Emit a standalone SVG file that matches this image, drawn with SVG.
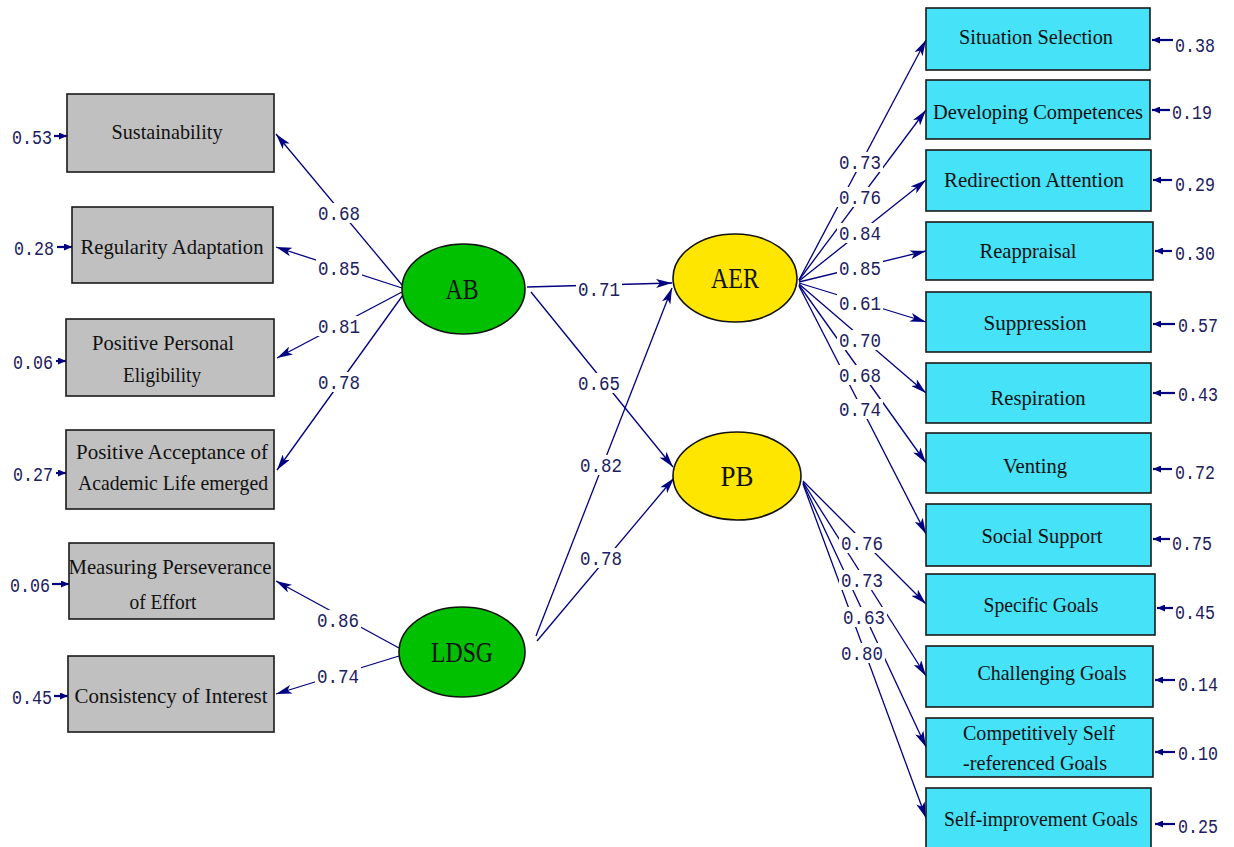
<svg xmlns="http://www.w3.org/2000/svg" width="1234" height="847" viewBox="0 0 1234 847">
<defs>
<marker id="ah" viewBox="0 0 16 9" refX="16" refY="4.5" markerWidth="16" markerHeight="9" orient="auto" markerUnits="userSpaceOnUse"><path d="M0,0 L16,4.5 L0,9 L4,4.5 z" fill="#000080"/></marker>
<marker id="eh" viewBox="0 0 8 7" refX="8" refY="3.5" markerWidth="8" markerHeight="7" orient="auto" markerUnits="userSpaceOnUse"><path d="M0,0 L8,3.5 L0,7 z" fill="#000080"/></marker>
</defs>
<style>
.gb{fill:#c0c0c0;stroke:#1a1a1a;stroke-width:1.6}
.cb{fill:#46e2f8;stroke:#1a1a1a;stroke-width:1.6}
.t{font-family:"Liberation Serif","Times New Roman",serif;font-size:21px;fill:#111;text-anchor:middle}
.et{font-family:"Liberation Serif","Times New Roman",serif;font-size:29px;fill:#111;text-anchor:middle}
.n{font-family:"Liberation Mono","Courier New",monospace;font-size:21px;fill:#20205e;text-anchor:middle}
.bg rect{fill:#fff;width:46px;height:20px}
.c line{stroke:#000080;stroke-width:1.3;marker-end:url(#ah)}
.e line{stroke:#000080;stroke-width:2.2;marker-end:url(#eh)}
</style>
<rect width="1234" height="847" fill="#fff"/>

<g id="connectors" class="c">
<line x1="402" y1="285" x2="276" y2="134"/>
<line x1="402" y1="288" x2="276" y2="247"/>
<line x1="402" y1="292" x2="277" y2="358"/>
<line x1="403" y1="295" x2="277" y2="470"/>
<line x1="399" y1="648" x2="276" y2="581"/>
<line x1="399" y1="656" x2="276" y2="694"/>
<line x1="527" y1="287" x2="672" y2="283"/>
<line x1="531" y1="292" x2="673" y2="467"/>
<line x1="536" y1="636" x2="672" y2="288"/>
<line x1="537" y1="641" x2="674" y2="478"/>
<line x1="799" y1="280" x2="926" y2="40"/>
<line x1="799" y1="280" x2="926" y2="110"/>
<line x1="799" y1="281" x2="926" y2="180"/>
<line x1="799" y1="282" x2="926" y2="251"/>
<line x1="799" y1="283" x2="926" y2="322"/>
<line x1="799" y1="284" x2="926" y2="393"/>
<line x1="799" y1="285" x2="926" y2="463"/>
<line x1="799" y1="286" x2="926" y2="534"/>
<line x1="803" y1="481" x2="926" y2="604"/>
<line x1="803" y1="482" x2="926" y2="676"/>
<line x1="803" y1="483" x2="926" y2="747"/>
<line x1="803" y1="484" x2="926" y2="818"/>
</g>

<g id="errors" class="e">
<line x1="54" y1="136" x2="67" y2="136"/>
<line x1="57" y1="247" x2="72" y2="247"/>
<line x1="56" y1="361" x2="66" y2="361"/>
<line x1="56" y1="473" x2="66" y2="473"/>
<line x1="52" y1="584" x2="69" y2="584"/>
<line x1="54" y1="696" x2="68" y2="696"/>
<line x1="1173" y1="40" x2="1152" y2="40"/>
<line x1="1170" y1="110" x2="1152" y2="110"/>
<line x1="1172" y1="180" x2="1153" y2="180"/>
<line x1="1172" y1="251" x2="1155" y2="251"/>
<line x1="1175" y1="324" x2="1153" y2="324"/>
<line x1="1175" y1="393" x2="1153" y2="393"/>
<line x1="1172" y1="469" x2="1153" y2="469"/>
<line x1="1170" y1="539" x2="1153" y2="539"/>
<line x1="1173" y1="608" x2="1157" y2="608"/>
<line x1="1175" y1="680" x2="1155" y2="680"/>
<line x1="1175" y1="752" x2="1155" y2="752"/>
<line x1="1175" y1="824" x2="1155" y2="824"/>
</g>

<g id="label-backgrounds" class="bg">
<rect x="316" y="203"/><rect x="316" y="258"/><rect x="316" y="316"/><rect x="316" y="372"/>
<rect x="315" y="610"/><rect x="315" y="666"/>
<rect x="576" y="279"/><rect x="576" y="373"/><rect x="578" y="455"/><rect x="578" y="548"/>
<rect x="837" y="152"/><rect x="837" y="187"/><rect x="837" y="223"/><rect x="837" y="258"/>
<rect x="837" y="293"/><rect x="837" y="330"/><rect x="837" y="365"/><rect x="837" y="399"/>
<rect x="839" y="533"/><rect x="839" y="570"/><rect x="841" y="607"/><rect x="839" y="643"/>
</g>

<g id="path-labels">
<text class="n" x="339" y="220" textLength="42" lengthAdjust="spacingAndGlyphs">0.68</text>
<text class="n" x="339" y="275" textLength="42" lengthAdjust="spacingAndGlyphs">0.85</text>
<text class="n" x="339" y="333" textLength="42" lengthAdjust="spacingAndGlyphs">0.81</text>
<text class="n" x="339" y="389" textLength="42" lengthAdjust="spacingAndGlyphs">0.78</text>
<text class="n" x="338" y="627" textLength="42" lengthAdjust="spacingAndGlyphs">0.86</text>
<text class="n" x="338" y="683" textLength="42" lengthAdjust="spacingAndGlyphs">0.74</text>
<text class="n" x="599" y="296" textLength="42" lengthAdjust="spacingAndGlyphs">0.71</text>
<text class="n" x="599" y="390" textLength="42" lengthAdjust="spacingAndGlyphs">0.65</text>
<text class="n" x="601" y="472" textLength="42" lengthAdjust="spacingAndGlyphs">0.82</text>
<text class="n" x="601" y="565" textLength="42" lengthAdjust="spacingAndGlyphs">0.78</text>
<text class="n" x="860" y="169" textLength="42" lengthAdjust="spacingAndGlyphs">0.73</text>
<text class="n" x="860" y="204" textLength="42" lengthAdjust="spacingAndGlyphs">0.76</text>
<text class="n" x="860" y="240" textLength="42" lengthAdjust="spacingAndGlyphs">0.84</text>
<text class="n" x="860" y="275" textLength="42" lengthAdjust="spacingAndGlyphs">0.85</text>
<text class="n" x="860" y="310" textLength="42" lengthAdjust="spacingAndGlyphs">0.61</text>
<text class="n" x="860" y="347" textLength="42" lengthAdjust="spacingAndGlyphs">0.70</text>
<text class="n" x="860" y="382" textLength="42" lengthAdjust="spacingAndGlyphs">0.68</text>
<text class="n" x="860" y="416" textLength="42" lengthAdjust="spacingAndGlyphs">0.74</text>
<text class="n" x="862" y="550" textLength="42" lengthAdjust="spacingAndGlyphs">0.76</text>
<text class="n" x="862" y="587" textLength="42" lengthAdjust="spacingAndGlyphs">0.73</text>
<text class="n" x="864" y="624" textLength="42" lengthAdjust="spacingAndGlyphs">0.63</text>
<text class="n" x="862" y="660" textLength="42" lengthAdjust="spacingAndGlyphs">0.80</text>
</g>

<g id="error-labels">
<text class="n" x="32" y="144" textLength="40" lengthAdjust="spacingAndGlyphs">0.53</text>
<text class="n" x="34" y="255" textLength="40" lengthAdjust="spacingAndGlyphs">0.28</text>
<text class="n" x="33" y="369" textLength="40" lengthAdjust="spacingAndGlyphs">0.06</text>
<text class="n" x="33" y="481" textLength="40" lengthAdjust="spacingAndGlyphs">0.27</text>
<text class="n" x="30" y="592" textLength="40" lengthAdjust="spacingAndGlyphs">0.06</text>
<text class="n" x="32" y="704" textLength="40" lengthAdjust="spacingAndGlyphs">0.45</text>
<text class="n" x="1195" y="52" textLength="40" lengthAdjust="spacingAndGlyphs">0.38</text>
<text class="n" x="1192" y="119" textLength="40" lengthAdjust="spacingAndGlyphs">0.19</text>
<text class="n" x="1195" y="191" textLength="40" lengthAdjust="spacingAndGlyphs">0.29</text>
<text class="n" x="1195" y="260" textLength="40" lengthAdjust="spacingAndGlyphs">0.30</text>
<text class="n" x="1198" y="332" textLength="40" lengthAdjust="spacingAndGlyphs">0.57</text>
<text class="n" x="1198" y="401" textLength="40" lengthAdjust="spacingAndGlyphs">0.43</text>
<text class="n" x="1195" y="479" textLength="40" lengthAdjust="spacingAndGlyphs">0.72</text>
<text class="n" x="1192" y="550" textLength="40" lengthAdjust="spacingAndGlyphs">0.75</text>
<text class="n" x="1195" y="619" textLength="40" lengthAdjust="spacingAndGlyphs">0.45</text>
<text class="n" x="1198" y="691" textLength="40" lengthAdjust="spacingAndGlyphs">0.14</text>
<text class="n" x="1198" y="760" textLength="40" lengthAdjust="spacingAndGlyphs">0.10</text>
<text class="n" x="1198" y="833" textLength="40" lengthAdjust="spacingAndGlyphs">0.25</text>
</g>

<g id="Sustainability"><rect class="gb" x="67" y="94" width="207" height="78"/><text class="t" x="167" y="139" textLength="111" lengthAdjust="spacingAndGlyphs">Sustainability</text></g>
<g id="RegularityAdaptation"><rect class="gb" x="72" y="207" width="201" height="76"/><text class="t" x="172" y="254" textLength="183" lengthAdjust="spacingAndGlyphs">Regularity Adaptation</text></g>
<g id="PositivePersonalEligibility"><rect class="gb" x="66" y="319" width="208" height="77"/><text class="t" x="163" y="350" textLength="142" lengthAdjust="spacingAndGlyphs">Positive Personal</text><text class="t" x="162" y="382" textLength="78" lengthAdjust="spacingAndGlyphs">Eligibility</text></g>
<g id="PositiveAcceptance"><rect class="gb" x="66" y="430" width="208" height="79"/><text class="t" x="172" y="459" textLength="192" lengthAdjust="spacingAndGlyphs">Positive Acceptance of</text><text class="t" x="173" y="490" textLength="190" lengthAdjust="spacingAndGlyphs">Academic Life emerged</text></g>
<g id="MeasuringPerseverance"><rect class="gb" x="69" y="543" width="205" height="76"/><text class="t" x="170" y="574" textLength="203" lengthAdjust="spacingAndGlyphs">Measuring Perseverance</text><text class="t" x="163" y="609" textLength="67" lengthAdjust="spacingAndGlyphs">of Effort</text></g>
<g id="ConsistencyOfInterest"><rect class="gb" x="68" y="656" width="206" height="76"/><text class="t" x="171" y="703" textLength="193" lengthAdjust="spacingAndGlyphs">Consistency of Interest</text></g>

<g id="AB"><ellipse cx="463.5" cy="289" rx="61.5" ry="45" fill="#00c000" stroke="#111" stroke-width="1.6"/><text class="et" x="462" y="299" textLength="33" lengthAdjust="spacingAndGlyphs">AB</text></g>
<g id="LDSG"><ellipse cx="462" cy="652" rx="63" ry="45" fill="#00c000" stroke="#111" stroke-width="1.6"/><text class="et" x="462" y="662" textLength="62" lengthAdjust="spacingAndGlyphs">LDSG</text></g>
<g id="AER"><ellipse cx="735" cy="278" rx="62" ry="44" fill="#ffe600" stroke="#111" stroke-width="1.6"/><text class="et" x="735" y="288" textLength="48" lengthAdjust="spacingAndGlyphs">AER</text></g>
<g id="PB"><ellipse cx="737" cy="476" rx="64" ry="44" fill="#ffe600" stroke="#111" stroke-width="1.6"/><text class="et" x="737" y="486" textLength="33" lengthAdjust="spacingAndGlyphs">PB</text></g>

<g id="SituationSelection"><rect class="cb" x="926" y="8" width="224" height="62"/><text class="t" x="1036" y="44" textLength="154" lengthAdjust="spacingAndGlyphs">Situation Selection</text></g>
<g id="DevelopingCompetences"><rect class="cb" x="926" y="80" width="224" height="59"/><text class="t" x="1038" y="119" textLength="210" lengthAdjust="spacingAndGlyphs">Developing Competences</text></g>
<g id="RedirectionAttention"><rect class="cb" x="926" y="150" width="225" height="61"/><text class="t" x="1034" y="187" textLength="180" lengthAdjust="spacingAndGlyphs">Redirection Attention</text></g>
<g id="Reappraisal"><rect class="cb" x="926" y="222" width="227" height="58"/><text class="t" x="1028" y="258" textLength="97" lengthAdjust="spacingAndGlyphs">Reappraisal</text></g>
<g id="Suppression"><rect class="cb" x="926" y="292" width="225" height="60"/><text class="t" x="1035" y="330" textLength="103" lengthAdjust="spacingAndGlyphs">Suppression</text></g>
<g id="Respiration"><rect class="cb" x="926" y="363" width="225" height="60"/><text class="t" x="1038" y="405" textLength="95" lengthAdjust="spacingAndGlyphs">Respiration</text></g>
<g id="Venting"><rect class="cb" x="926" y="433" width="225" height="60"/><text class="t" x="1035" y="473" textLength="64" lengthAdjust="spacingAndGlyphs">Venting</text></g>
<g id="SocialSupport"><rect class="cb" x="926" y="504" width="225" height="62"/><text class="t" x="1042" y="543" textLength="121" lengthAdjust="spacingAndGlyphs">Social Support</text></g>
<g id="SpecificGoals"><rect class="cb" x="926" y="574" width="229" height="61"/><text class="t" x="1041" y="612" textLength="115" lengthAdjust="spacingAndGlyphs">Specific Goals</text></g>
<g id="ChallengingGoals"><rect class="cb" x="926" y="646" width="227" height="61"/><text class="t" x="1052" y="680" textLength="149" lengthAdjust="spacingAndGlyphs">Challenging Goals</text></g>
<g id="CompetitivelySelfReferencedGoals"><rect class="cb" x="926" y="718" width="227" height="59"/><text class="t" x="1039" y="740" textLength="152" lengthAdjust="spacingAndGlyphs">Competitively Self</text><text class="t" x="1035" y="770" textLength="144" lengthAdjust="spacingAndGlyphs">-referenced Goals</text></g>
<g id="SelfImprovementGoals"><rect class="cb" x="926" y="788" width="225" height="62"/><text class="t" x="1041" y="826" textLength="194" lengthAdjust="spacingAndGlyphs">Self-improvement Goals</text></g>
</svg>
